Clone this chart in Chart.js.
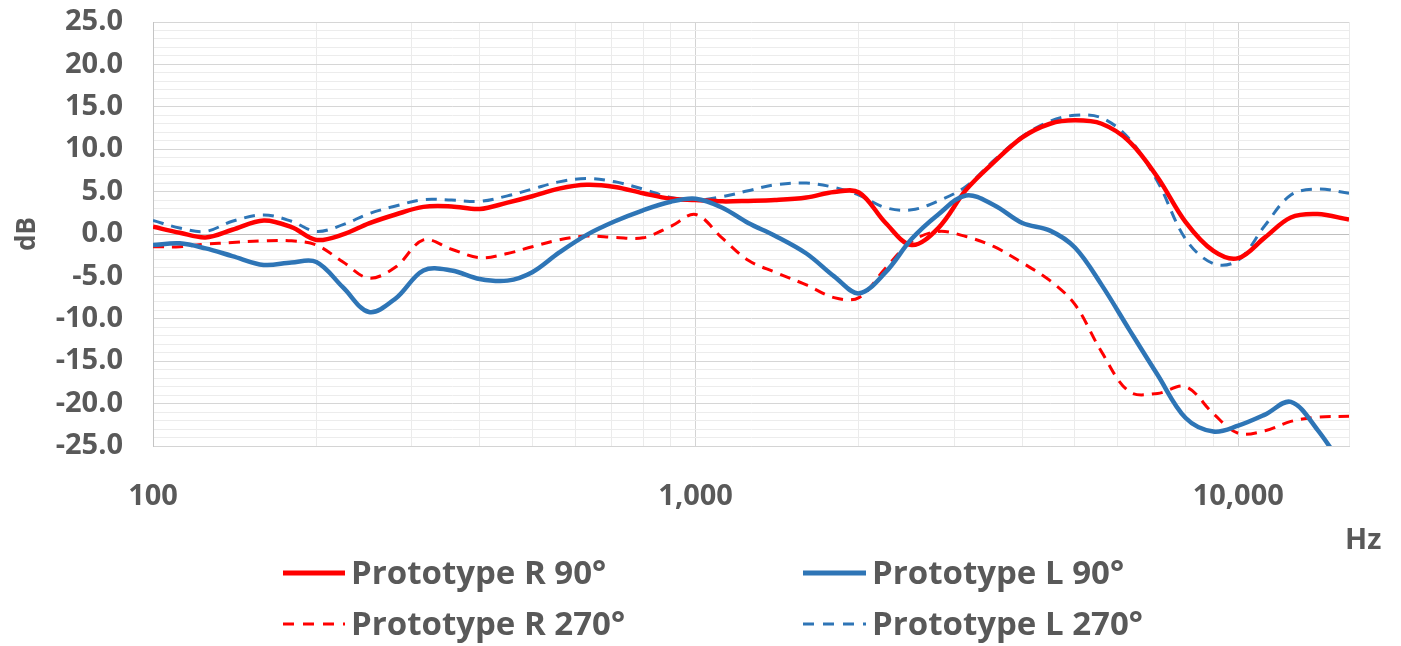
<!DOCTYPE html>
<html>
<head>
<meta charset="utf-8">
<script src="https://cdn.jsdelivr.net/npm/chart.js@4.4.1/dist/chart.umd.min.js"></script>
<style>
  html, body { margin: 0; padding: 0; background: #ffffff; }
  #wrap { position: relative; width: 1401px; height: 646px; overflow: hidden; background: #fff; }
  #c { position: absolute; left: 0; top: 0; }
  .txt { position: absolute; font-family: "Open Sans", "Liberation Sans", sans-serif; font-weight: 700; color: #595959; white-space: nowrap; }
  .leg { height: 40px; line-height: 40px; font-size: 33px; }
  .sw { position: absolute; }
</style>
</head>
<body>
<div id="wrap">
  <canvas id="c" width="1401" height="646"></canvas>
  <svg class="sw" style="left:283px;top:568px" width="64" height="10"><line x1="0" y1="5" x2="62" y2="5" stroke="#ff0000" stroke-width="5"/></svg>
  <div class="txt leg" style="left:351px;top:552px">Prototype R 90°</div>
  <svg class="sw" style="left:803px;top:568px" width="64" height="10"><line x1="0" y1="5" x2="63" y2="5" stroke="#2e75b6" stroke-width="5"/></svg>
  <div class="txt leg" style="left:872px;top:552px">Prototype L 90°</div>
  <svg class="sw" style="left:283px;top:619px" width="64" height="10"><line x1="0" y1="5" x2="62" y2="5" stroke="#ff0000" stroke-width="3" stroke-dasharray="11,9"/></svg>
  <div class="txt leg" style="left:351px;top:603px">Prototype R 270°</div>
  <svg class="sw" style="left:803px;top:619px" width="64" height="10"><line x1="0" y1="5" x2="63" y2="5" stroke="#2e75b6" stroke-width="3" stroke-dasharray="11,9"/></svg>
  <div class="txt leg" style="left:872px;top:603px">Prototype L 270°</div>
  <div class="txt" style="left:1345px;top:520px;font-size:29px;line-height:36px;">Hz</div>
</div>
<script>
// ---- data ----
const freqs = [100, 112, 125, 140, 160, 180, 200, 224, 250, 280, 315, 355, 400, 450, 500, 560, 630, 710, 800, 900,
               1000, 1120, 1250, 1400, 1600, 1800, 2000, 2240, 2500, 2800, 3150, 3550, 4000, 4500, 5000, 5600, 6300, 7100, 8000, 9000,
               10000, 11200, 12500, 14000, 16000];

const protoR90 = [0.85, 0.15, -0.4, 0.5, 1.6, 0.8, -0.7, -0.05, 1.25, 2.3, 3.2, 3.25, 2.95, 3.7, 4.45, 5.35, 5.8, 5.55, 4.8, 4.15,
                  4.0, 3.85, 3.9, 4.0, 4.3, 4.95, 4.9, 1.3, -1.3, 0.7, 5.2, 8.5, 11.4, 13.0, 13.4, 13.0, 10.9, 6.7, 1.4, -2.0,
                  -2.85, -0.4, 1.95, 2.35, 1.7];

const protoL90 = [-1.3, -1.1, -1.7, -2.6, -3.65, -3.35, -3.3, -6.3, -9.2, -7.6, -4.3, -4.3, -5.3, -5.5, -4.5, -2.2, -0.1, 1.5, 2.8, 3.8,
                  4.15, 3.1, 1.3, -0.2, -2.3, -5.0, -7.0, -4.5, -0.6, 2.3, 4.55, 3.4, 1.3, 0.4, -1.6, -6.0, -11.3, -16.6, -21.7, -23.3,
                  -22.6, -21.3, -19.8, -23.1, -28.5];

const protoR270 = [-1.5, -1.5, -1.2, -1.0, -0.8, -0.8, -1.3, -3.3, -5.2, -3.9, -0.7, -1.8, -2.8, -2.3, -1.5, -0.7, -0.25, -0.4, -0.45, 0.9,
                   2.3, -0.5, -3.1, -4.5, -6.0, -7.5, -7.5, -4.0, -0.9, 0.3, -0.3, -1.5, -3.4, -5.5, -8.3, -13.9, -18.6, -18.8, -18.0, -21.2,
                   -23.5, -23.2, -22.1, -21.6, -21.5];

const protoL270 = [1.6, 0.7, 0.3, 1.5, 2.25, 1.5, 0.3, 1.1, 2.4, 3.3, 4.05, 4.0, 3.85, 4.5, 5.3, 6.15, 6.55, 6.15, 5.3, 4.3,
                   4.0, 4.4, 5.1, 5.8, 6.0, 5.5, 4.6, 3.1, 2.85, 3.9, 5.6, 8.7, 11.5, 13.3, 14.0, 13.7, 11.2, 6.2, -0.6, -3.5,
                   -3.1, 1.0, 4.6, 5.3, 4.8];

const seriesNames = ['Prototype R 90°', 'Prototype L 90°', 'Prototype R 270°', 'Prototype L 270°'];
const xLabelValues = [100, 1000, 10000];
const xMin = 100, xMax = 16000;
const yMin = -25, yMax = 25;

// ---- chart ----
const RED = '#ff0000', BLUE = '#2e75b6';
const pts = arr => freqs.map((f, i) => ({ x: f, y: arr[i] }));

const gridFreqs = [];
for (let d = 100; d <= 10000; d *= 10) {
  for (let m = 1; m <= 9; m++) { const v = m * d; if (v <= xMax) gridFreqs.push(v); }
}
gridFreqs.push(xMax);

const tickFont = { family: '"Open Sans", "Liberation Sans", sans-serif', weight: 'bold', size: 29 };

new Chart(document.getElementById('c'), {
  type: 'line',
  data: {
    datasets: [
      { label: seriesNames[0], data: pts(protoR90), borderColor: RED, borderWidth: 4.5, order: 2 },
      { label: seriesNames[1], data: pts(protoL90), borderColor: BLUE, borderWidth: 4.5, order: 1 },
      { label: seriesNames[2], data: pts(protoR270), borderColor: RED, borderWidth: 3, borderDash: [11, 8], order: 4 },
      { label: seriesNames[3], data: pts(protoL270), borderColor: BLUE, borderWidth: 3, borderDash: [11, 8], order: 3 }
    ]
  },
  options: {
    responsive: false,
    animation: false,
    devicePixelRatio: 1,
    layout: { padding: { left: 0, top: 22, right: 52, bottom: 0 } },
    elements: {
      point: { radius: 0, hoverRadius: 0 },
      line: { tension: 0.35, fill: false, borderCapStyle: 'butt', borderJoinStyle: 'round' }
    },
    plugins: { legend: { display: false }, tooltip: { enabled: false } },
    scales: {
      x: {
        type: 'logarithmic',
        min: xMin, max: xMax,
        afterBuildTicks: s => { s.ticks = gridFreqs.map(v => ({ value: v })); },
        afterFit: s => { s.height = 200; s.paddingLeft = 0; s.paddingRight = 0; },
        ticks: {
          autoSkip: false, maxRotation: 0, padding: 33,
          font: tickFont, color: '#595959',
          callback: v => xLabelValues.includes(v) ? v.toLocaleString('en-US') : ''
        },
        grid: {
          drawTicks: false,
          color: ctx => (ctx.tick && xLabelValues.includes(ctx.tick.value)) ? '#d4d4d4' : '#ebebeb',
          lineWidth: 1
        },
        border: { display: true, color: '#d4d4d4', width: 1 }
      },
      y: {
        min: yMin, max: yMax,
        afterBuildTicks: s => { const t = []; for (let v = yMin; v <= yMax; v++) t.push({ value: v }); s.ticks = t; },
        afterFit: s => { s.width = 153; s.paddingTop = 0; s.paddingBottom = 0; },
        ticks: {
          autoSkip: false, padding: 30,
          font: tickFont, color: '#595959',
          callback: v => (v % 5 === 0) ? v.toFixed(1) : ''
        },
        grid: {
          drawTicks: false,
          color: ctx => {
            const v = ctx.tick ? ctx.tick.value : 1;
            if (v === 0) return '#bfbfbf';
            return (v % 5 === 0) ? '#d6d6d6' : '#ececec';
          },
          lineWidth: 1
        },
        border: { display: true, color: '#c4c4c4', width: 1 },
        title: {
          display: true, text: 'dB', color: '#595959', padding: { top: 12, bottom: 0 },
          font: { family: '"Open Sans", "Liberation Sans", sans-serif', weight: 'bold', size: 26 }
        }
      }
    }
  }
});
</script>
</body>
</html>
